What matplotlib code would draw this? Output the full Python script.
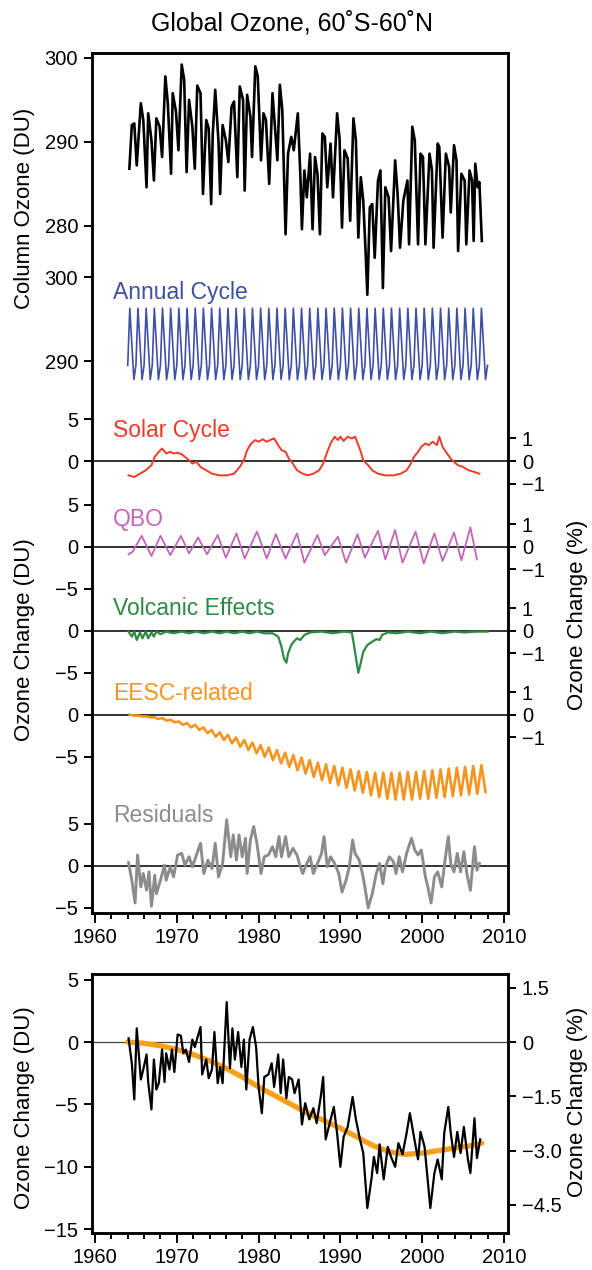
import numpy as np
import matplotlib
matplotlib.use("Agg")
import matplotlib.pyplot as plt
from matplotlib.ticker import MultipleLocator

plt.rcParams['font.family'] = ['Liberation Sans', 'DejaVu Sans']

# ---- series (DU) ----
column_years = [1964.2, 1964.5, 1964.8, 1965.1, 1965.6, 1965.9, 1966.3, 1966.5, 1966.9, 1967.2,
                1967.5, 1967.9, 1968.2, 1968.6, 1968.9, 1969.3, 1969.5, 1969.9, 1970.2, 1970.6,
                1970.9, 1971.2, 1971.5, 1971.9, 1972.2, 1972.5, 1972.9, 1973.2, 1973.6, 1973.9,
                1974.2, 1974.4, 1974.7, 1975.1, 1975.3, 1975.6, 1976.0, 1976.3, 1976.7, 1977.0,
                1977.4, 1977.7, 1978.1, 1978.3, 1978.6, 1979.0, 1979.2, 1979.6, 1979.9, 1980.3,
                1980.6, 1980.9, 1981.3, 1981.7, 1982.0, 1982.3, 1982.6, 1982.9, 1983.3, 1983.6,
                1984.0, 1984.3, 1984.8, 1985.1, 1985.3, 1985.6, 1985.9, 1986.3, 1986.6, 1986.9,
                1987.2, 1987.5, 1987.8, 1988.1, 1988.4, 1988.8, 1989.1, 1989.6, 1989.9, 1990.2,
                1990.5, 1990.9, 1991.2, 1991.6, 1991.9, 1992.2, 1992.5, 1992.8, 1993.1, 1993.3,
                1993.6, 1993.9, 1994.2, 1994.6, 1994.9, 1995.2, 1995.5, 1995.9, 1996.2, 1996.7,
                1997.0, 1997.3, 1997.7, 1998.2, 1998.4, 1998.8, 1999.1, 1999.5, 1999.8, 2000.1,
                2000.4, 2000.9, 2001.2, 2001.4, 2001.9, 2002.1, 2002.5, 2002.9, 2003.3, 2003.5,
                2003.9, 2004.2, 2004.4, 2004.8, 2005.2, 2005.4, 2005.8, 2006.1, 2006.3, 2006.5,
                2006.8, 2007.0, 2007.3]
column_du = [286.8, 292.0, 292.2, 287.2, 294.6, 292.6, 284.6, 293.4, 290.2, 285.4,
             292.8, 291.8, 288.2, 297.8, 294.6, 286.2, 295.8, 293.6, 289.0, 299.2,
             297.4, 286.4, 295.0, 291.8, 286.8, 296.7, 295.8, 283.8, 292.6, 291.6,
             282.6, 291.0, 296.2, 290.0, 283.8, 292.0, 290.2, 287.6, 294.2, 294.8,
             285.8, 296.6, 295.0, 284.2, 295.6, 293.0, 288.2, 299.0, 297.8, 287.8,
             293.4, 292.6, 285.0, 295.8, 291.8, 287.8, 296.8, 293.8, 279.0, 288.6,
             290.6, 289.0, 293.4, 286.2, 279.6, 286.6, 283.4, 288.6, 279.6, 288.2,
             286.2, 279.0, 291.0, 290.6, 284.6, 289.8, 283.4, 293.4, 290.4, 279.8,
             289.0, 288.0, 280.6, 292.8, 290.2, 278.6, 285.8, 283.0, 276.6, 271.8,
             282.2, 282.6, 276.2, 285.4, 286.6, 272.6, 284.6, 283.4, 277.0, 287.8,
             283.8, 277.4, 283.0, 285.4, 277.8, 291.8, 290.2, 277.8, 288.6, 288.2,
             277.8, 288.6, 286.6, 277.4, 289.8, 289.4, 278.6, 288.6, 287.0, 281.6,
             289.6, 287.8, 277.0, 286.2, 285.4, 277.8, 286.6, 285.4, 278.2, 287.4,
             284.6, 285.2, 278.2]

# seasonal climatology, one value per quarter
annual_clim = [289.5, 296.3, 292.0, 287.8]
annual_n_years = 44

solar_years = [1964.1, 1964.8, 1965.5, 1966.2, 1966.9, 1967.3, 1967.8, 1968.2, 1968.7, 1969.2,
               1969.6, 1970.1, 1970.6, 1971.0, 1971.5, 1971.9, 1972.4, 1972.9, 1973.6, 1974.3,
               1975.2, 1976.1, 1977.0, 1977.7, 1978.2, 1978.6, 1979.1, 1979.6, 1980.0, 1980.5,
               1981.0, 1981.4, 1981.9, 1982.4, 1982.8, 1983.3, 1983.7, 1984.2, 1984.7, 1985.4,
               1986.0, 1986.7, 1987.4, 1987.9, 1988.4, 1988.8, 1989.3, 1989.7, 1990.0, 1990.4,
               1990.9, 1991.4, 1991.8, 1992.2, 1992.5, 1992.8, 1993.4, 1993.9, 1994.6, 1995.5,
               1996.5, 1997.4, 1998.1, 1998.5, 1999.0, 1999.5, 1999.9, 2000.4, 2000.8, 2001.3,
               2001.8, 2002.1, 2002.5, 2002.9, 2003.5, 2003.9, 2004.4, 2005.0, 2005.7, 2006.4,
               2007.0]
solar_du = [-1.7, -1.9, -1.5, -1.1, -0.5, 0.5, 1.1, 1.5, 0.9, 1.1,
            0.9, 1.0, 0.8, 0.5, 0.1, -0.3, -0.1, -0.7, -1.1, -1.5,
            -1.7, -1.7, -1.5, -0.7, 0.1, 1.3, 2.1, 2.5, 2.3, 2.6,
            2.3, 2.5, 2.7, 1.9, 1.3, 1.1, 0.3, -0.3, -1.1, -1.5,
            -1.7, -1.5, -1.1, -0.3, 1.1, 2.1, 2.9, 2.5, 2.9, 2.4,
            2.9, 2.7, 2.9, 1.9, 1.1, 0.1, -0.5, -1.1, -1.5, -1.7,
            -1.7, -1.5, -1.1, -0.5, 0.5, 1.1, 1.7, 2.1, 1.9, 2.3,
            1.9, 2.9, 1.7, 1.1, 0.3, -0.1, -0.5, -0.7, -1.1, -1.3,
            -1.5]

qbo_years = [1964.1, 1964.6, 1965.7, 1966.9, 1968.0, 1969.2, 1970.5, 1971.5, 1972.6, 1973.7,
             1975.0, 1976.0, 1977.3, 1978.3, 1979.8, 1981.0, 1982.1, 1983.3, 1984.7, 1985.6,
             1987.2, 1988.1, 1989.7, 1990.7, 1992.1, 1993.0, 1994.6, 1995.5, 1996.7, 1997.6,
             1999.2, 2000.2, 2001.5, 2002.5, 2003.9, 2004.8, 2005.9, 2006.7]
qbo_du = [-0.9, -0.6, 1.3, -1.1, 1.3, -1.0, 1.3, -0.8, 1.1, -0.9,
          1.4, -1.3, 1.6, -1.4, 1.8, -1.4, 1.5, -1.4, 1.6, -1.9,
          1.4, -1.0, 1.2, -1.9, 1.5, -1.3, 1.9, -1.5, 2.0, -1.9,
          1.8, -2.0, 1.6, -1.7, 1.7, -1.6, 2.3, -1.5]

volc_years = [1964.1, 1964.5, 1964.8, 1965.1, 1965.5, 1965.8, 1966.2, 1966.5, 1966.9, 1967.2,
              1967.5, 1968.0, 1968.7, 1969.6, 1970.6, 1971.5, 1972.4, 1973.3, 1974.3, 1975.2,
              1976.1, 1977.0, 1978.0, 1978.9, 1979.8, 1980.7, 1981.7, 1982.4, 1982.8, 1983.1,
              1983.4, 1983.6, 1984.0, 1984.3, 1984.7, 1985.1, 1985.6, 1986.3, 1987.7, 1989.1,
              1990.4, 1991.4, 1991.7, 1992.0, 1992.2, 1992.5, 1992.8, 1993.3, 1993.9, 1994.4,
              1994.8, 1995.1, 1995.8, 1996.9, 1998.3, 1999.7, 2001.1, 2002.5, 2003.9, 2005.2,
              2006.6, 2008.0]
volc_du = [-0.1, -0.7, -0.1, -1.1, -0.2, -0.9, -0.1, -0.9, -0.2, -0.7,
           -0.1, -0.4, -0.1, -0.3, -0.1, -0.3, -0.1, -0.3, -0.1, -0.3,
           -0.1, -0.3, -0.1, -0.3, -0.1, -0.3, -0.3, -0.7, -1.9, -3.3,
           -3.8, -2.7, -1.7, -1.3, -0.9, -1.1, -0.5, -0.2, -0.1, -0.3,
           -0.1, -0.2, -1.9, -3.8, -5.0, -3.8, -2.5, -1.7, -1.3, -1.0,
           -1.1, -0.5, -0.2, -0.3, -0.1, -0.3, -0.1, -0.3, -0.1, -0.2,
           -0.1, -0.1]

# EESC-related term: seasonal high / low for each year 1964-2007
eesc_first_year = 1964
eesc_hi = [0.0, -0.1, -0.2, -0.3, -0.4, -0.6, -0.8, -1.0, -1.2, -1.5,
           -1.8, -2.1, -2.4, -2.7, -3.0, -3.3, -3.6, -3.9, -4.2, -4.5,
           -4.8, -5.1, -5.4, -5.7, -5.9, -6.1, -6.3, -6.5, -6.7, -6.8,
           -6.9, -6.9, -6.9, -6.9, -6.8, -6.8, -6.7, -6.6, -6.5, -6.4,
           -6.3, -6.2, -6.1, -6.0]
eesc_lo = [-0.1, -0.2, -0.3, -0.5, -0.7, -0.9, -1.2, -1.5, -1.8, -2.2,
           -2.6, -3.0, -3.4, -3.8, -4.2, -4.6, -5.0, -5.4, -5.8, -6.2,
           -6.6, -7.0, -7.4, -7.8, -8.1, -8.4, -8.7, -9.0, -9.3, -9.6,
           -9.8, -10.0, -10.1, -10.1, -10.1, -10.0, -10.0, -9.9, -9.8, -9.7,
           -9.6, -9.5, -9.4, -9.2]

resid_years = [1964.1, 1964.5, 1964.9, 1965.2, 1965.6, 1965.9, 1966.3, 1966.6, 1966.9, 1967.3,
               1967.5, 1968.0, 1968.5, 1968.7, 1969.2, 1969.6, 1970.1, 1970.6, 1971.0, 1971.5,
               1971.9, 1972.4, 1972.9, 1973.3, 1973.8, 1974.3, 1974.7, 1975.1, 1975.6, 1976.1,
               1976.6, 1976.9, 1977.3, 1977.6, 1978.0, 1978.4, 1978.6, 1979.0, 1979.4, 1979.8,
               1980.3, 1980.7, 1981.2, 1981.7, 1982.1, 1982.5, 1982.8, 1983.3, 1983.7, 1984.2,
               1984.7, 1985.1, 1985.4, 1985.8, 1986.3, 1986.7, 1987.2, 1987.7, 1988.0, 1988.4,
               1988.8, 1989.3, 1989.8, 1990.2, 1990.7, 1991.1, 1991.5, 1991.8, 1992.3, 1992.7,
               1993.0, 1993.4, 1993.9, 1994.4, 1994.8, 1995.2, 1995.5, 1996.0, 1996.5, 1996.8,
               1997.2, 1997.6, 1998.1, 1998.7, 1999.1, 1999.5, 1999.9, 2000.4, 2000.7, 2001.1,
               2001.5, 2001.9, 2002.4, 2002.8, 2003.2, 2003.5, 2003.9, 2004.3, 2004.7, 2005.1,
               2005.5, 2005.9, 2006.4, 2006.7, 2007.0]
resid_du = [0.4, -1.7, -4.4, 1.3, -2.5, -0.9, -2.9, -0.7, -4.8, -1.1,
            -3.3, -1.7, 0.1, -1.7, -0.1, -1.3, 1.3, 1.5, 0.1, 1.1,
            -0.1, 1.3, 2.7, -0.9, 0.7, -0.3, 2.7, -1.3, 0.3, 5.5,
            1.1, 3.7, 0.7, 3.7, 1.1, 3.3, -0.9, 3.1, 4.7, 2.7,
            -0.9, 1.1, 1.3, 2.3, 1.1, 3.5, 1.1, 3.5, 1.1, 2.1,
            1.3, -0.1, -0.9, 0.1, 1.1, -0.9, 0.3, 1.5, 3.5, -0.1,
            1.1, 0.3, -0.9, -3.1, -1.7, -0.1, 3.1, 1.5, 0.7, -0.9,
            -2.5, -5.0, -3.3, -0.9, 0.3, -2.1, -0.1, 1.1, 0.5, -0.9,
            1.1, -0.7, 1.5, 3.3, 1.9, 1.3, 1.9, -1.3, -2.5, -4.4,
            -1.3, -0.7, -2.5, 0.7, 3.5, 0.3, -0.7, 1.5, -0.7, 1.7,
            -1.1, -2.9, 2.3, -0.5, 0.3]

# lower panel: ozone change after removing seasonal, solar, QBO and volcanic terms
change_years = [1964.1, 1964.5, 1964.8, 1965.1, 1965.6, 1965.9, 1966.3, 1966.5, 1966.9, 1967.2,
                1967.5, 1967.8, 1968.2, 1968.5, 1968.7, 1969.1, 1969.4, 1969.7, 1970.1, 1970.5,
                1970.8, 1971.1, 1971.5, 1971.9, 1972.2, 1972.5, 1972.9, 1973.1, 1973.6, 1973.9,
                1974.3, 1974.6, 1975.0, 1975.3, 1975.6, 1976.1, 1976.5, 1976.8, 1977.1, 1977.5,
                1977.9, 1978.2, 1978.5, 1978.9, 1979.3, 1979.7, 1980.0, 1980.4, 1980.7, 1981.2,
                1981.6, 1981.9, 1982.4, 1982.7, 1983.0, 1983.4, 1983.7, 1984.1, 1984.4, 1984.9,
                1985.3, 1985.7, 1986.2, 1986.7, 1987.1, 1987.6, 1987.9, 1988.2, 1988.7, 1989.2,
                1989.6, 1990.0, 1990.4, 1990.9, 1991.5, 1991.9, 1992.4, 1992.8, 1993.3, 1993.8,
                1994.1, 1994.5, 1994.8, 1995.3, 1995.8, 1996.2, 1996.7, 1997.1, 1997.6, 1998.1,
                1998.5, 1999.0, 1999.5, 1999.8, 2000.3, 2000.6, 2001.0, 2001.5, 2001.9, 2002.4,
                2002.7, 2003.2, 2003.5, 2003.9, 2004.3, 2004.7, 2005.1, 2005.6, 2005.9, 2006.4,
                2006.7, 2007.1]
change_du = [0.3, -1.7, -4.6, 1.1, -3.0, -2.2, -1.0, -3.2, -5.4, -1.4,
             -3.8, -3.3, -0.6, -3.2, -0.9, -2.2, -0.6, -2.4, 0.6, 0.5,
             -0.9, -0.6, -1.6, 0.2, -0.4, 0.3, 1.2, -2.6, -1.4, -2.9,
             -2.2, 0.8, -3.3, -2.0, -3.3, 3.2, -2.1, 1.1, -1.4, 0.8,
             -2.0, 0.2, -3.8, 0.2, 1.2, -0.4, -3.6, -5.7, -2.8, -2.6,
             -1.7, -3.6, -1.0, -4.1, -1.4, -4.5, -2.8, -3.0, -4.1, -3.0,
             -6.6, -4.9, -6.2, -5.3, -6.5, -4.4, -2.8, -7.8, -6.5, -5.2,
             -7.3, -10.0, -7.6, -6.8, -4.4, -6.2, -7.8, -8.9, -13.3, -11.0,
             -9.2, -10.5, -8.2, -11.0, -8.4, -9.2, -10.0, -8.1, -9.0, -7.3,
             -5.7, -7.6, -9.4, -7.2, -8.4, -10.5, -13.3, -10.5, -9.4, -11.0,
             -7.3, -5.2, -7.3, -9.2, -7.2, -8.9, -6.8, -9.4, -10.5, -6.1,
             -9.3, -7.8]

eesc_fit_years = [1964, 1966, 1968, 1970, 1972, 1974, 1976, 1978, 1980, 1982, 1984, 1986,
                  1988, 1990, 1992, 1994, 1996, 1998, 2000, 2002, 2004, 2006, 2007.3]
eesc_fit_du = [0.0, -0.1, -0.3, -0.6, -1.0, -1.5, -2.1, -2.8, -3.6, -4.3, -5.0, -5.7,
               -6.3, -6.9, -7.6, -8.3, -8.8, -9.0, -8.9, -8.7, -8.5, -8.3, -8.1]

# ---- layout of the stacked upper panel (all in DU) ----
du_per_pct = 2.7
col_shift = -198.2      # column ozone: 300 DU drawn at 101.8
annual_shift = -224.3   # annual cycle: 300 DU drawn at 75.7
solar_base = 53.8
qbo_base = 43.6
volc_base = 33.6
eesc_base = 23.6
resid_base = 5.6

c_annual = '#3f4fa6'
c_solar = '#ee3a26'
c_qbo = '#c266b8'
c_volc = '#2e8a42'
c_eesc = '#f7941e'
c_resid = '#8c8c8c'

tick_fs = 14.5
label_fs = 16

fig = plt.figure(figsize=(5.92, 12.7), dpi=100)
ax = fig.add_axes([92 / 592, 1 - 913 / 1270, 416 / 592, 860 / 1270])
ax.set_xlim(1959.63, 2010.5)
ax.set_ylim(0, 102.38)

for base in [solar_base, qbo_base, volc_base, eesc_base, resid_base]:
    ax.axhline(base, color='#333333', lw=1.4, zorder=1)

ax.plot(column_years, np.array(column_du) + col_shift, color='black', lw=1.9, zorder=3)

annual_years = 1964 + 0.25 * np.arange(4 * annual_n_years + 1)
annual_vals = np.append(np.tile(annual_clim, annual_n_years), annual_clim[0])
ax.plot(annual_years, annual_vals + annual_shift, color=c_annual, lw=1.2, zorder=2)

ax.plot(solar_years, np.array(solar_du) + solar_base, color=c_solar, lw=1.4, zorder=2)
ax.plot(qbo_years, np.array(qbo_du) + qbo_base, color=c_qbo, lw=1.3, zorder=2)
ax.plot(volc_years, np.array(volc_du) + volc_base, color=c_volc, lw=1.6, zorder=2)

yrs = eesc_first_year + np.arange(len(eesc_hi))
eesc_t = np.column_stack([yrs + 0.25, yrs + 0.75]).ravel()
eesc_v = np.column_stack([eesc_hi, eesc_lo]).ravel()
ax.plot(eesc_t, eesc_v + eesc_base, color=c_eesc, lw=1.9, zorder=2)

ax.plot(resid_years, np.array(resid_du) + resid_base, color=c_resid, lw=2.1, zorder=2)

label_x = 1962.2
for txt, yy, col in [('Annual Cycle', 73.9, c_annual), ('Solar Cycle', 57.4, c_solar),
                     ('QBO', 46.9, c_qbo), ('Volcanic Effects', 36.2, c_volc),
                     ('EESC-related', 26.1, c_eesc), ('Residuals', 11.6, c_resid)]:
    ax.text(label_x, yy, txt, color=col, fontsize=16.5, ha='left', va='center')

# left ticks: one small scale per component
left_ticks = [(300, col_shift), (290, col_shift), (280, col_shift),
              (300, annual_shift), (290, annual_shift),
              (5, solar_base), (0, solar_base),
              (5, qbo_base), (0, qbo_base), (-5, qbo_base),
              (0, volc_base), (-5, volc_base),
              (0, eesc_base), (-5, eesc_base),
              (5, resid_base), (0, resid_base), (-5, resid_base)]
ax.set_yticks([v + s for v, s in left_ticks])
ax.set_yticklabels([f'{v:d}'.replace('-', '\u2212') for v, s in left_ticks])

ax_r = ax.twinx()
ax_r.set_ylim(ax.get_ylim())
right_pos, right_lab = [], []
for base in [solar_base, qbo_base, volc_base, eesc_base]:
    for p, lab in [(1, '1'), (0, '0'), (-1, '\u22121')]:
        right_pos.append(base + p * du_per_pct)
        right_lab.append(lab)
ax_r.set_yticks(right_pos)
ax_r.set_yticklabels(right_lab)


def style_x(a):
    a.xaxis.set_major_locator(MultipleLocator(10))
    a.xaxis.set_minor_locator(MultipleLocator(2))
    a.tick_params(axis='x', which='major', length=7, width=1.4, labelsize=tick_fs, pad=4)
    a.tick_params(axis='x', which='minor', length=4, width=1.4)


for a in (ax, ax_r):
    for sp in a.spines.values():
        sp.set_linewidth(1.8)
style_x(ax)
ax.tick_params(axis='y', length=6, width=1.4, labelsize=tick_fs, pad=4)
ax_r.tick_params(axis='y', length=6, width=1.4, labelsize=tick_fs, pad=4)

# ---- lower panel ----
bx = fig.add_axes([92 / 592, 1 - 1233 / 1270, 416 / 592, 259 / 1270])
bx.set_xlim(1959.63, 2010.5)
bx.set_ylim(-15.3, 5.45)
bx.axhline(0, color='#444444', lw=0.9, zorder=1)
bx.plot(eesc_fit_years, eesc_fit_du, color='#f7a11a', lw=3.8, solid_capstyle='round', zorder=2)
bx.plot(change_years, change_du, color='black', lw=1.6, zorder=3)
bx.set_yticks([5, 0, -5, -10, -15])
bx.set_yticklabels(['5', '0', '\u22125', '\u221210', '\u221215'])

pct_per_du = 1 / 2.9
bx_r = bx.twinx()
bx_r.set_ylim(-15.3 * pct_per_du, 5.45 * pct_per_du)
bx_r.set_yticks([1.5, 0, -1.5, -3.0, -4.5])
bx_r.set_yticklabels(['1.5', '0', '\u22121.5', '\u22123.0', '\u22124.5'])

for a in (bx, bx_r):
    for sp in a.spines.values():
        sp.set_linewidth(1.8)
style_x(bx)
bx.tick_params(axis='y', length=6, width=1.4, labelsize=tick_fs, pad=4)
bx_r.tick_params(axis='y', length=6, width=1.4, labelsize=tick_fs, pad=4)

# ---- titles and axis labels ----
fig.text(0.493, 0.9815, 'Global Ozone, 60\u02daS-60\u02daN', ha='center', va='center', fontsize=18)
fig.text(0.042, 0.836, 'Column Ozone (DU)', rotation=90, ha='center', va='center', fontsize=label_fs)
fig.text(0.042, 0.496, 'Ozone Change (DU)', rotation=90, ha='center', va='center', fontsize=label_fs)
fig.text(0.975, 0.516, 'Ozone Change (%)', rotation=90, ha='center', va='center', fontsize=label_fs)
fig.text(0.042, 0.128, 'Ozone Change (DU)', rotation=90, ha='center', va='center', fontsize=label_fs)
fig.text(0.976, 0.132, 'Ozone Change (%)', rotation=90, ha='center', va='center', fontsize=label_fs)

fig.savefig('out.png', dpi=100)
